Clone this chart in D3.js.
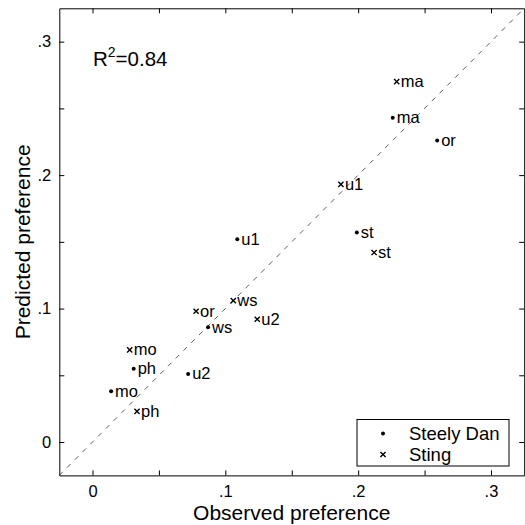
<!DOCTYPE html>
<html>
<head>
<meta charset="utf-8">
<script src="https://cdn.jsdelivr.net/npm/d3@7"></script>
<style>
  html, body { margin: 0; padding: 0; background: #fff; }
  svg { display: block; font-family: "Liberation Sans", Arial, Helvetica, sans-serif; }
</style>
</head>
<body>
<div id="chart"></div>
<script>
// ---- data ----
var steelyLabels = ['ma', 'or', 'st', 'u1', 'ws', 'ph', 'u2', 'mo'];
var steelyObserved = [0.226, 0.2595, 0.199, 0.109, 0.087, 0.031, 0.072, 0.014];
var steelyPredicted = [0.243, 0.226, 0.157, 0.152, 0.086, 0.055, 0.051, 0.038];

var stingLabels = ['ma', 'u1', 'st', 'ws', 'or', 'u2', 'mo', 'ph'];
var stingObserved = [0.229, 0.187, 0.212, 0.106, 0.078, 0.124, 0.028, 0.0335];
var stingPredicted = [0.270, 0.193, 0.142, 0.106, 0.098, 0.092, 0.069, 0.023];

var tickValues = [0, 0.05, 0.1, 0.15, 0.2, 0.25, 0.3];
var tickLabels = ['0', '', '.1', '', '.2', '', '.3'];
var axisDomain = [-0.025, 0.325];
var rSquared = '0.84';

(function () {
  'use strict';
  var width = 525, height = 525;
  var margin = { left: 59.3, right: 0.8, top: 8.3, bottom: 49.6 };
  var innerW = width - margin.left - margin.right;
  var innerH = height - margin.top - margin.bottom;

  var svg = d3.select('#chart').append('svg')
    .attr('width', width)
    .attr('height', height);

  var g = svg.append('g')
    .attr('transform', 'translate(' + margin.left + ',' + margin.top + ')');

  var x = d3.scaleLinear().domain(axisDomain).range([0, innerW]);
  var y = d3.scaleLinear().domain(axisDomain).range([innerH, 0]);

  function fmt(d) { return tickLabels[tickValues.indexOf(d)]; }

  // axes: ticks inward, box on all four sides
  var xBottom = d3.axisBottom(x).tickValues(tickValues).tickFormat(fmt).tickSizeInner(-5).tickSizeOuter(0).tickPadding(10);
  var xTop = d3.axisTop(x).tickValues(tickValues).tickFormat('').tickSizeInner(-5).tickSizeOuter(0);
  var yLeft = d3.axisLeft(y).tickValues(tickValues).tickFormat(fmt).tickSizeInner(-5).tickSizeOuter(0).tickPadding(8);
  var yRight = d3.axisRight(y).tickValues(tickValues).tickFormat('').tickSizeInner(-5).tickSizeOuter(0);

  g.append('g').attr('transform', 'translate(0,' + innerH + ')').call(xBottom);
  g.append('g').call(xTop);
  g.append('g').call(yLeft);
  g.append('g').attr('transform', 'translate(' + innerW + ',0)').call(yRight);

  g.selectAll('.domain').attr('stroke', '#000').attr('stroke-width', 1);
  g.selectAll('.tick line').attr('stroke', '#000');
  g.selectAll('.tick text').attr('fill', '#000').style('font-size', '16.5px');

  // identity line y = x
  g.append('line')
    .attr('x1', x(axisDomain[0])).attr('y1', y(axisDomain[0]))
    .attr('x2', x(axisDomain[1])).attr('y2', y(axisDomain[1]))
    .attr('stroke', '#333')
    .attr('stroke-width', 0.8)
    .attr('stroke-dasharray', '5,6');

  function drawDot(sel) {
    sel.append('circle').attr('r', 2).attr('fill', '#000');
  }
  function drawCross(sel) {
    sel.append('path').attr('d', 'M-2.6,-2.6L2.6,2.6M-2.6,2.6L2.6,-2.6')
      .attr('stroke', '#000').attr('stroke-width', 1.4).attr('fill', 'none');
  }

  function drawSeries(labels, obs, pred, marker) {
    var pts = g.append('g').selectAll('g')
      .data(labels.map(function (l, i) { return { label: l, x: obs[i], y: pred[i] }; }))
      .enter().append('g')
      .attr('transform', function (d) { return 'translate(' + x(d.x) + ',' + y(d.y) + ')'; });
    pts.call(marker);
    pts.append('text')
      .attr('x', 4)
      .attr('y', 5.5)
      .style('font-size', '16.5px')
      .text(function (d) { return d.label; });
  }

  drawSeries(steelyLabels, steelyObserved, steelyPredicted, drawDot);
  drawSeries(stingLabels, stingObserved, stingPredicted, drawCross);

  // R^2 annotation
  var rt = g.append('text')
    .attr('x', 93 - margin.left)
    .attr('y', 66 - margin.top)
    .style('font-size', '20.5px');
  rt.append('tspan').text('R');
  rt.append('tspan').attr('dy', -9).style('font-size', '14px').text('2');
  rt.append('tspan').attr('dy', 9).text('=' + rSquared);

  // legend
  var legend = svg.append('g').attr('transform', 'translate(357,419.5)');
  legend.append('rect').attr('width', 152).attr('height', 46.5)
    .attr('fill', '#fff').attr('stroke', '#000').attr('stroke-width', 1);
  var rows = [{ name: 'Steely Dan', mk: drawDot }, { name: 'Sting', mk: drawCross }];
  rows.forEach(function (r, i) {
    var row = legend.append('g').attr('transform', 'translate(26,' + (14 + i * 21) + ')');
    row.call(r.mk);
    row.append('text').attr('x', 26).attr('y', 6.5).style('font-size', '18.5px').text(r.name);
  });

  // axis titles
  svg.append('text')
    .attr('x', margin.left + innerW / 2)
    .attr('y', 519.5)
    .attr('text-anchor', 'middle')
    .style('font-size', '21px')
    .text('Observed preference');

  svg.append('text')
    .attr('transform', 'translate(29.5,' + (margin.top + innerH / 2) + ') rotate(-90)')
    .attr('text-anchor', 'middle')
    .style('font-size', '21px')
    .text('Predicted preference');
})();
</script>
</body>
</html>
